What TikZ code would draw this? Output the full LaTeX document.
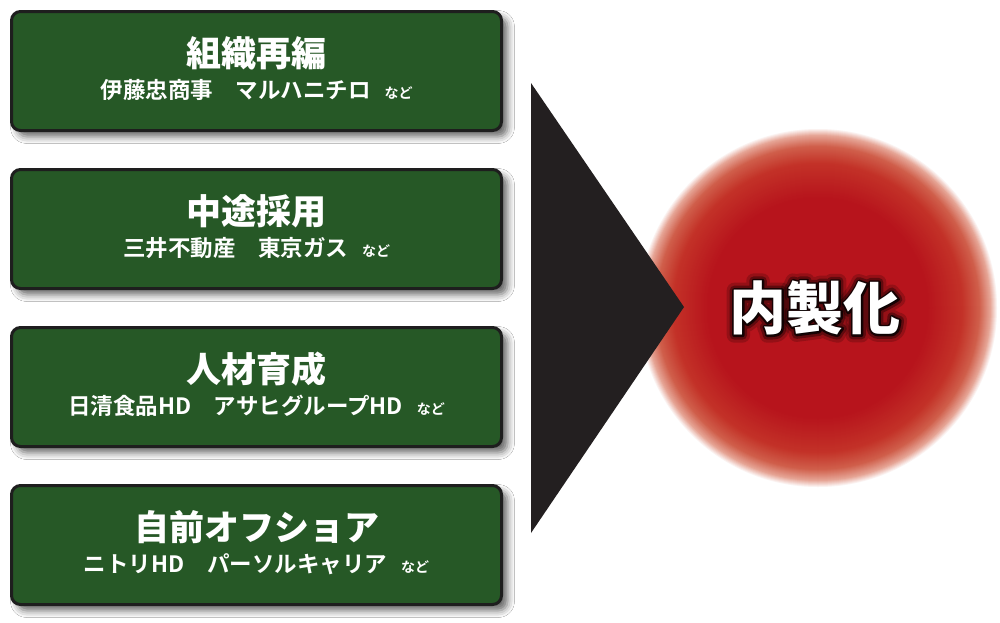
\documentclass[tikz,border=0pt]{standalone}
\usepackage{fontspec}
\newfontfamily\cjk{Noto Sans CJK JP}[BoldFont={Noto Sans CJK JP Bold}]
\newfontfamily\cjkheavy{Noto Sans CJK JP Black}
\newcommand\nadotxt{{\cjk\bfseries\fontsize{14}{14}\selectfont など}}
\newcommand\strokedtext[2]{\special{pdf:code 2 Tr #1 w 1 j 1 J}#2\special{pdf:code 0 Tr}}
\usetikzlibrary{shadows.blur}
\definecolor{boxgreen}{RGB}{38,88,38}
\definecolor{boxedge}{RGB}{30,30,30}
\definecolor{trigray}{RGB}{35,31,32}
\definecolor{rcore}{RGB}{183,20,28}
\definecolor{rc2}{RGB}{195,50,40}
\definecolor{rc3}{RGB}{208,95,75}
\definecolor{rc4}{RGB}{230,165,150}
\begin{document}
\begin{tikzpicture}[x=1pt,y=-1pt,
  gbox/.style={draw=boxedge, line width=3pt, fill=boxgreen, rounded corners=9pt,
    minimum width=490pt, minimum height=119pt, inner sep=0pt,
    blur shadow={shadow xshift=6pt, shadow yshift=-6pt, shadow blur radius=7pt, shadow opacity=60}},
  ttl/.style={text=white, font=\cjkheavy\fontsize{35}{35}\selectfont, inner sep=0pt},
  sub/.style={text=white, font=\cjk\bfseries\fontsize{22.5}{22.5}\selectfont, inner sep=0pt},
  glow/.style={text=black, font=\cjkheavy\fontsize{57}{57}\selectfont, inner sep=0pt}]
\useasboundingbox[fill=white] (0,0) rectangle (1000,622);

% boxes
\node[gbox] (b1) at (256.5,71) {};
\node[gbox] (b2) at (256.5,229) {};
\node[gbox] (b3) at (256.5,387) {};
\node[gbox] (b4) at (256.5,545) {};

\node[ttl] (t1) at (256.5,53) {組織再編};
\node[sub] (s1) at (256.5,90) {伊藤忠商事　マルハニチロ\hspace{14pt}\nadotxt};
\node[ttl] (t2) at (256.5,211) {中途採用};
\node[sub] (s2) at (256.5,248) {三井不動産　東京ガス\hspace{14pt}\nadotxt};
\node[ttl] (t3) at (256.5,369) {人材育成};
\node[sub] (s3) at (256.5,406) {日清食品HD　アサヒグループHD\hspace{14pt}\nadotxt};
\node[ttl] (t4) at (256.5,527) {自前オフショア};
\node[sub] (s4) at (256.5,564) {ニトリHD　パーソルキャリア\hspace{14pt}\nadotxt};

% red circle with soft edge
\coordinate (cc) at (818,308);
\foreach \ra/\rb/\ca/\cb in {180/173/white/rc4, 173/162/rc4/rc3, 162/145/rc3/rc2, 145/110/rc2/rcore} {
  \pgfmathtruncatemacro\nst{\ra-\rb-1}
  \foreach \i in {0,...,\nst} {
    \pgfmathsetmacro\pc{100*\i/(\ra-\rb)}
    \pgfmathsetmacro\rr{\ra-\i}
    \fill[\cb!\pc!\ca] (cc) circle[radius=\rr];
  }
}
\fill[rcore] (cc) circle[radius=110];

% triangle
\fill[trigray] (531,83) -- (684,307) -- (531,533) -- cycle;

% glowing title
\node[glow, opacity=0.18] (gl1) at (815,308) {\strokedtext{15}{内製化}};
\node[glow, opacity=0.35] (gl2) at (815,308) {\strokedtext{9}{内製化}};
\node[glow, opacity=0.75] (gl3) at (815,308) {\strokedtext{4}{内製化}};
\node[glow, text=white] (naisei) at (815,308) {内製化};
\end{tikzpicture}
\end{document}
